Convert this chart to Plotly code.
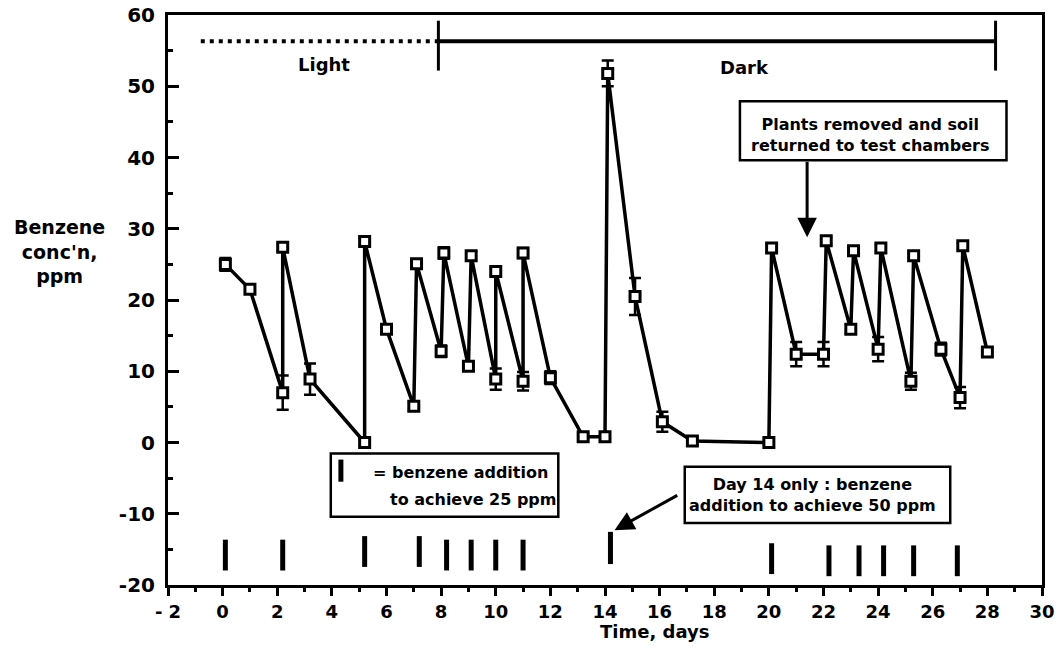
import plotly.graph_objects as go

# ---- data ----
days = [0.1, 1.0, 2.2, 2.2, 3.2, 5.2, 5.2, 6.0, 7.0, 7.1, 8.0, 8.1, 9.0, 9.1, 10.0, 10.0,
        11.0, 11.0, 12.0, 13.2, 14.0, 14.1, 15.1, 16.1, 17.2, 20.0, 20.1, 21.0, 22.0, 22.1,
        23.0, 23.1, 24.0, 24.1, 25.2, 25.3, 26.3, 27.0, 27.1, 28.0]
benzene = [25.0, 21.5, 7.0, 27.4, 8.9, 0.0, 28.2, 15.9, 5.1, 25.1, 12.8, 26.6, 10.7, 26.2, 8.9, 24.0,
           8.6, 26.6, 9.1, 0.8, 0.8, 51.8, 20.5, 2.9, 0.2, 0.0, 27.3, 12.4, 12.4, 28.3,
           15.9, 26.9, 13.1, 27.3, 8.6, 26.2, 13.1, 6.3, 27.6, 12.7]
errors = [0.9, 0.4, 2.4, 0.5, 2.2, 0.4, 0.5, 0.6, 0.6, 0.4, 0.8, 0.8, 0.6, 0.6, 1.5, 0.5,
          1.3, 0.7, 0.9, 0.3, 0.3, 1.8, 2.6, 1.4, 0.3, 0.3, 0.6, 1.7, 1.7, 0.5,
          0.6, 0.4, 1.7, 0.4, 1.2, 0.3, 0.9, 1.5, 0.4, 0.6]

addition_days = [0.1, 2.2, 5.2, 7.2, 8.2, 9.1, 10.0, 11.0, 20.1, 22.2, 23.3, 24.2, 25.3, 26.9]
addition_level = [-15.8, -15.8, -15.3, -15.3, -15.8, -15.8, -15.8, -15.8,
                  -16.3, -16.6, -16.6, -16.6, -16.6, -16.6]
addition50_days = [14.2]
addition50_level = [-14.8]

light_period = [-0.8, 7.9]
dark_period = [7.9, 28.3]
period_level = 56.3
period_edges = [7.9, 28.3]
edge_span = [52.2, 59.2]

x_ticks = list(range(-2, 31, 2))
x_ticktext = ["- 2"] + [str(v) for v in range(0, 31, 2)]
y_ticks = list(range(-20, 61, 10))
y_ticktext = [str(v) for v in y_ticks]

FONT = "DejaVu Sans"
BLACK = "black"

fig = go.Figure()

# light / dark bars
fig.add_trace(go.Scatter(x=light_period, y=[period_level] * 2, mode="lines",
                         line=dict(color=BLACK, width=4, dash="4px,5px"),
                         hoverinfo="skip", showlegend=False))
fig.add_trace(go.Scatter(x=dark_period, y=[period_level] * 2, mode="lines",
                         line=dict(color=BLACK, width=4),
                         hoverinfo="skip", showlegend=False))
for e in period_edges:
    fig.add_trace(go.Scatter(x=[e, e], y=edge_span, mode="lines",
                             line=dict(color=BLACK, width=3),
                             hoverinfo="skip", showlegend=False))

# main series
fig.add_trace(go.Scatter(
    x=days, y=benzene, mode="lines+markers",
    line=dict(color=BLACK, width=3.5),
    marker=dict(symbol="square", size=10, color="white",
                line=dict(color=BLACK, width=3)),
    error_y=dict(type="data", array=errors, visible=True,
                 color=BLACK, thickness=2.5, width=6),
    showlegend=False))

# benzene additions
fig.add_trace(go.Scatter(x=addition_days, y=addition_level, mode="markers",
                         marker=dict(symbol="line-ns", size=22,
                                     line=dict(color=BLACK, width=5)),
                         showlegend=False))
fig.add_trace(go.Scatter(x=addition50_days, y=addition50_level, mode="markers",
                         marker=dict(symbol="line-ns", size=23,
                                     line=dict(color=BLACK, width=5)),
                         showlegend=False))

# boxes
fig.add_shape(type="rect", x0=3.96, x1=12.29, y0=-10.42, y1=-1.55,
              line=dict(color=BLACK, width=2.5))
fig.add_shape(type="line", x0=4.33, x1=4.33, y0=-5.5, y1=-2.4,
              line=dict(color=BLACK, width=5))
fig.add_shape(type="rect", x0=18.94, x1=28.7, y0=39.6, y1=47.9,
              line=dict(color=BLACK, width=2.5))
fig.add_shape(type="rect", x0=16.92, x1=26.64, y0=-11.3, y1=-3.4,
              line=dict(color=BLACK, width=2.5))

bold = dict(family=FONT, size=16, color=BLACK, weight="bold")

ann = [
    dict(x=3.7, y=53.0, text="Light", showarrow=False,
         font=dict(family=FONT, size=18, color=BLACK, weight="bold")),
    dict(x=19.1, y=52.6, text="Dark", showarrow=False,
         font=dict(family=FONT, size=18, color=BLACK, weight="bold")),
    dict(x=5.43, y=-4.2, text="= benzene addition", showarrow=False,
         xanchor="left", font=bold),
    dict(x=6.06, y=-8.0, text="to achieve 25 ppm", showarrow=False,
         xanchor="left", font=bold),
    dict(x=23.7, y=43.1, text="Plants removed and soil<br>returned to test chambers",
         showarrow=False, font=bold),
    dict(x=21.6, y=-7.4, text="Day 14 only : benzene<br>addition to achieve 50 ppm",
         showarrow=False, font=bold),
    # arrows
    dict(x=21.4, y=28.8, ax=21.4, ay=39.6, axref="x", ayref="y", xref="x", yref="y",
         text="", showarrow=True, arrowhead=2, arrowsize=1.3, arrowwidth=3,
         arrowcolor=BLACK, standoff=0, startstandoff=0),
    dict(x=14.35, y=-12.3, ax=16.7, ay=-7.3, axref="x", ayref="y", xref="x", yref="y",
         text="", showarrow=True, arrowhead=2, arrowsize=1.3, arrowwidth=3,
         arrowcolor=BLACK, standoff=0, startstandoff=0),
    # axis titles
    dict(xref="paper", yref="paper", x=-0.124, y=0.585, xanchor="center", yanchor="middle",
         text="Benzene<br>conc'n,<br>ppm", showarrow=False,
         font=dict(family=FONT, size=19, color=BLACK, weight="bold")),
    dict(xref="paper", yref="paper", x=0.557, y=-0.082, xanchor="center", yanchor="middle",
         text="Time, days", showarrow=False,
         font=dict(family=FONT, size=18, color=BLACK, weight="bold")),
]
fig.update_layout(annotations=ann)

fig.update_xaxes(range=[-2, 30], tickvals=x_ticks, ticktext=x_ticktext,
                 ticks="outside", ticklen=8, tickwidth=3, tickcolor=BLACK,
                 minor=dict(dtick=1, ticks="outside", ticklen=4, tickwidth=3, tickcolor=BLACK),
                 showline=True, linecolor=BLACK, linewidth=3, mirror=True,
                 showgrid=False, zeroline=False, automargin=False,
                 ticklabeloverflow="allow",
                 tickfont=dict(family=FONT, size=18, color=BLACK, weight="bold"))
fig.update_yaxes(range=[-20, 60], tickvals=y_ticks, ticktext=y_ticktext,
                 ticks="inside", ticklen=11, tickwidth=3, tickcolor=BLACK,
                 minor=dict(dtick=5, ticks="inside", ticklen=5, tickwidth=3, tickcolor=BLACK),
                 showline=True, linecolor=BLACK, linewidth=3, mirror=True,
                 showgrid=False, zeroline=False, ticklabelstandoff=6, automargin=False,
                 ticklabeloverflow="allow",
                 tickfont=dict(family=FONT, size=20, color=BLACK, weight="bold"))

fig.update_layout(width=1057, height=654,
                  margin=dict(l=168, r=15, t=15, b=69, autoexpand=False),
                  paper_bgcolor="white", plot_bgcolor="white",
                  showlegend=False, font=dict(family=FONT, color=BLACK))

fig.write_html("out.html", config={"displayModeBar": False},
               post_script="document.body.style.margin='0';document.body.style.overflow='hidden';")
